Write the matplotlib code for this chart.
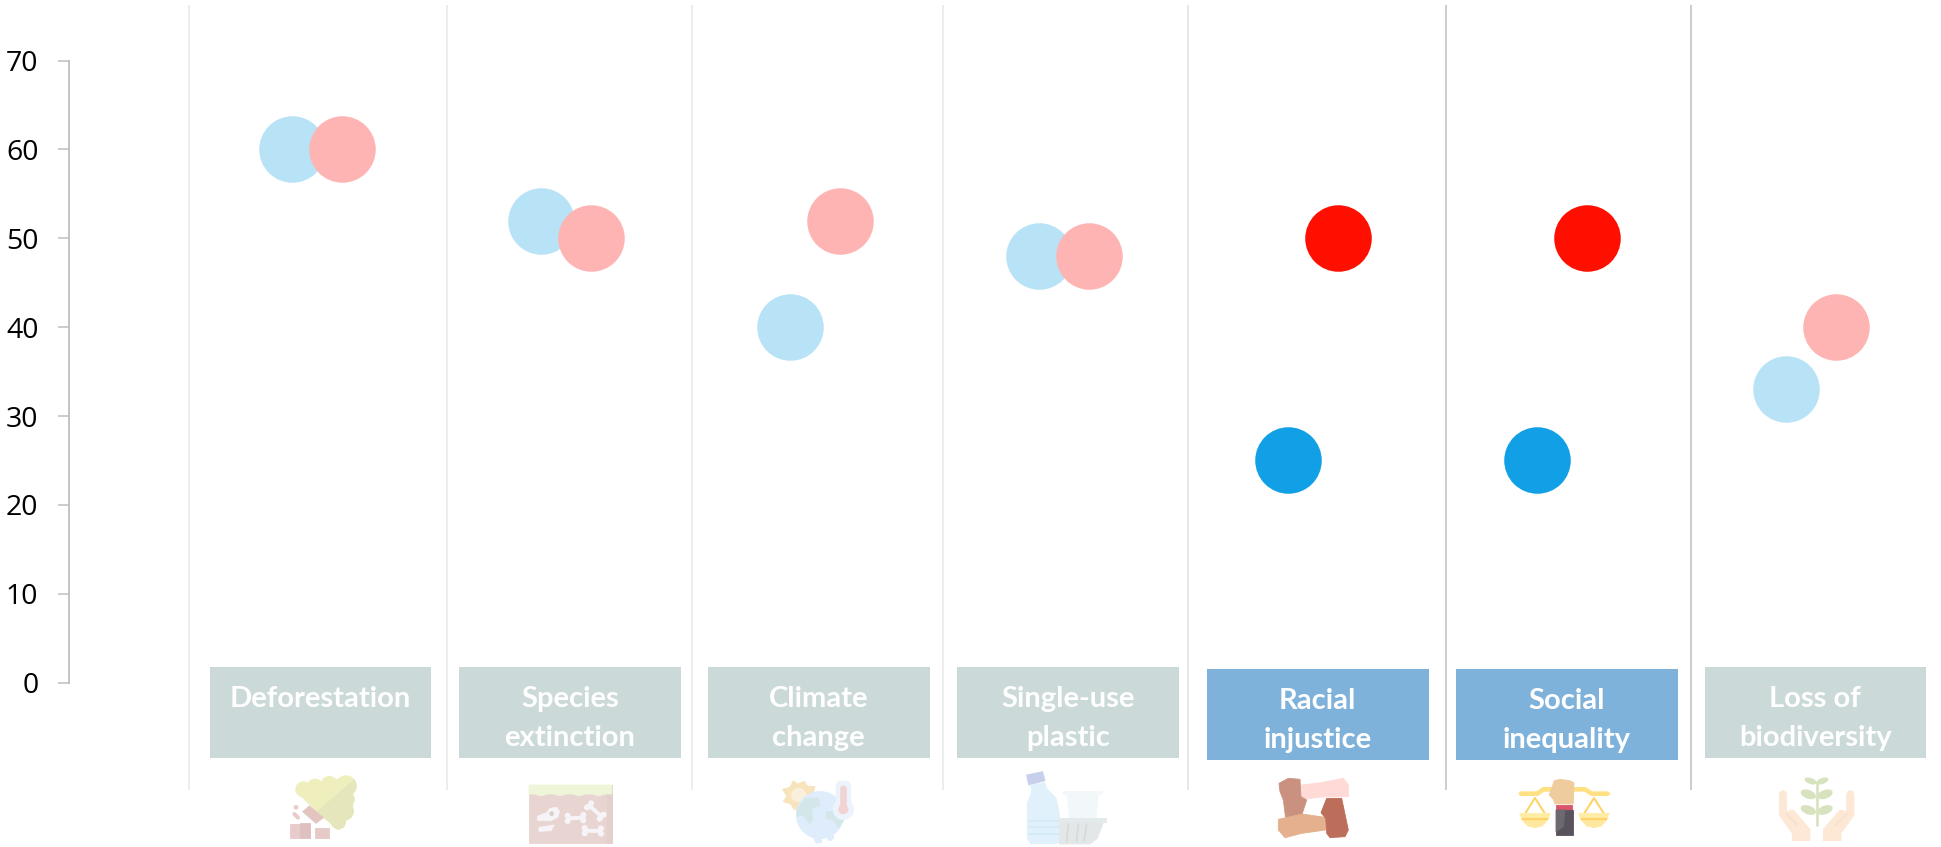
import matplotlib
matplotlib.use("Agg")
import matplotlib.pyplot as plt
from matplotlib.patches import Polygon, Circle, Ellipse, Rectangle
from matplotlib.transforms import Affine2D

WIDTH, HEIGHT = 1941, 847

# ---- data ----
categories = ["Deforestation", "Species\nextinction", "Climate\nchange", "Single-use\nplastic",
              "Racial\ninjustice", "Social\ninequality", "Loss of\nbiodiversity"]
series_blue = [60, 52, 40, 48, 25, 25, 33]
series_red = [60, 50, 52, 48, 50, 50, 40]
highlighted = [False, False, False, False, True, True, False]
y_ticks = [0, 10, 20, 30, 40, 50, 60, 70]

# ---- styles ----
BLUE_MUTED, BLUE_STRONG = "#B8E2F6", "#119FE6"
RED_MUTED, RED_STRONG = "#FFB4B4", "#FF0F00"
BOX_MUTED, BOX_STRONG = "#CCD9D9", "#7FB2DB"
AXIS_GREY = "#BFBFBF"

fig = plt.figure(figsize=(WIDTH / 100, HEIGHT / 100), dpi=100, facecolor="white")
ax = fig.add_axes([0, 0, 1, 1], facecolor="none")

# One category step is 249 px, one value unit is 8.886 px; zero sits at (317, 682.6).
ax.set_xlim(-317 / 249, (WIDTH - 317) / 249)
ax.set_ylim((682.6 - HEIGHT) / 8.886, 682.6 / 8.886)

# Transform that takes top-left based pixel positions.
px = Affine2D().scale(1 / WIDTH, -1 / HEIGHT).translate(0, 1) + fig.transFigure

# ---- axis ----
for side in ("top", "right", "bottom"):
    ax.spines[side].set_visible(False)
ax.spines["left"].set_position(("data", (69 - 317) / 249))
ax.spines["left"].set_bounds(0, 70)
ax.spines["left"].set_color(AXIS_GREY)
ax.spines["left"].set_linewidth(1.3)
ax.set_xticks([])
ax.set_yticks(y_ticks)
ax.tick_params(axis="y", length=8, width=1.1, color=AXIS_GREY, pad=14, labelsize=20.5,
               labelcolor="black")
for label in ax.get_yticklabels():
    label.set_fontfamily("Open Sans")
ax.patch.set_visible(False)

# ---- column separators ----
separators = [(188.7, "#E8E8E8"), (447, "#E8E8E8"), (692, "#E8E8E8"), (943, "#E8E8E8"),
              (1188, "#E0E0E0"), (1446, "#BFBFBF"), (1691, "#BFBFBF")]
for xpos, colour in separators:
    ax.plot([xpos, xpos], [5, 790], color=colour, lw=1.1, transform=px, zorder=1,
            solid_capstyle="butt")

# ---- dots ----
for i in range(len(categories)):
    ax.scatter(i - 0.1, series_blue[i], s=2294, linewidths=0, zorder=3,
               color=BLUE_STRONG if highlighted[i] else BLUE_MUTED)
    ax.scatter(i + 0.1, series_red[i], s=2294, linewidths=0, zorder=4,
               color=RED_STRONG if highlighted[i] else RED_MUTED)

# ---- category boxes ----
box_lefts = [209.7, 459, 708, 957, 1207, 1456, 1704.5]
box_width = 221.5
for left, name, strong in zip(box_lefts, categories, highlighted):
    top = 669 if strong else 667
    ax.add_patch(Rectangle((left, top), box_width, 91, transform=px, linewidth=0, zorder=2,
                           facecolor=BOX_STRONG if strong else BOX_MUTED))
    for n, line in enumerate(name.split("\n")):
        ax.text(left + box_width / 2, top + 40 + 39 * n, line, transform=px, ha="center",
                va="baseline", color="white", fontsize=21, fontweight="bold",
                fontfamily="Lato", zorder=5)


# ---- icons: shapes are given at 3x inside a local box ----
def at(x0, y0, pts):
    return [(x0 + a / 3, y0 + b / 3) for a, b in pts]


def poly(x0, y0, pts, colour):
    patch = Polygon(at(x0, y0, pts), closed=True, transform=px, facecolor=colour, linewidth=0.6,
                    edgecolor=colour, joinstyle="round", zorder=2)
    ax.add_patch(patch)
    return patch


def disc(x0, y0, cx, cy, r, colour):
    patch = Circle((x0 + cx / 3, y0 + cy / 3), r / 3, transform=px, facecolor=colour, linewidth=0,
                   zorder=2)
    ax.add_patch(patch)
    return patch


def oval(x0, y0, cx, cy, w, h, colour, angle=0):
    patch = Ellipse((x0 + cx / 3, y0 + cy / 3), w / 3, h / 3, angle=angle, transform=px,
                    facecolor=colour, linewidth=0, zorder=2)
    ax.add_patch(patch)
    return patch


def stroke(x0, y0, pts, colour, width, cap="round"):
    xs, ys = zip(*at(x0, y0, pts))
    ax.plot(xs, ys, color=colour, lw=width / 3 * 0.72, transform=px, solid_capstyle=cap,
            solid_joinstyle="round", zorder=2)


# Deforestation
X, Y = 270, 770
foliage = [(100, 58, 24), (135, 50, 24), (178, 44, 26), (228, 48, 32), (232, 88, 22),
           (225, 125, 26), (205, 155, 23)]
foliage_poly = [(76, 60), (235, 20), (250, 125), (205, 178), (140, 125)]
for cx, cy, r in foliage:
    disc(X, Y, cx, cy, r, "#EFEFBE")
poly(X, Y, foliage_poly, "#EFEFBE")
shade = Polygon(at(X, Y, [(262, 20), (140, 125), (205, 185), (262, 185)]), closed=True, transform=px)
for cx, cy, r in foliage:
    disc(X, Y, cx, cy, r, "#E6E6BC").set_clip_path(shade)
poly(X, Y, foliage_poly, "#E6E6BC").set_clip_path(shade)
poly(X, Y, [(98, 125), (118, 108), (160, 143), (138, 160)], "#E3C4C0")
disc(X, Y, 78, 112, 7, "#E8CBC8")
stroke(X, Y, [(73, 132), (84, 143)], "#E8CBC8", 12)
poly(X, Y, [(60, 162), (90, 162), (90, 205), (60, 205)], "#E8CCCB")
poly(X, Y, [(90, 160), (120, 160), (120, 205), (90, 205)], "#DFC0C0")
poly(X, Y, [(135, 175), (177, 175), (177, 205), (135, 205)], "#E6CAC8")

# Species extinction
X, Y = 515, 770
poly(X, Y, [(42, 45), (290, 45), (290, 220), (42, 220)], "#E8D5D1")
poly(X, Y, [(275, 70), (290, 70), (290, 220), (275, 220)], "#E3CFCC")
poly(X, Y, [(42, 45), (290, 45), (290, 72), (270, 72), (250, 78), (232, 72), (212, 72), (193, 78),
            (174, 72), (154, 72), (135, 78), (116, 72), (97, 72), (78, 78), (60, 72), (42, 72)],
     "#EEF5D8")
BONE = "#F6F4F6"
bones = [((158, 145), (205, 143), (0, 8)), ((222, 106), (260, 140), (6, -6)),
         ((209, 182), (258, 183), (0, 8))]
for start, end, (dx, dy) in bones:
    stroke(X, Y, [start, end], BONE, 12)
    for (a, b) in (start, end):
        disc(X, Y, a - dx, b - dy, 9, BONE)
        disc(X, Y, a + dx, b + dy, 9, BONE)
poly(X, Y, [(68, 152), (68, 138), (95, 128), (105, 115), (125, 112), (134, 125), (128, 142),
            (108, 152)], BONE)
disc(X, Y, 110, 131, 7, "#D9CFCF")
poly(X, Y, [(72, 172), (118, 165), (108, 182), (72, 184)], BONE)

# Climate change
X, Y = 770, 770
sun_outline = [(70, 32), (82, 42), (103, 34), (112, 48), (135, 50), (130, 68), (145, 82),
               (125, 100), (115, 118), (92, 115), (72, 118), (62, 102), (40, 95), (50, 78),
               (38, 58), (60, 52)]
poly(X, Y, sun_outline, "#F8E4BC")
oval(X, Y, 86, 75, 46, 42, "#FAEEDC")
disc(X, Y, 150, 135, 72, "#DEECFB")
poly(X, Y, [(125, 190), (190, 190), (190, 205), (172, 205), (172, 195), (152, 195), (152, 215),
            (135, 215)], "#DEECFB")
disc(X, Y, 143, 213, 8, "#DEECFB")
disc(X, Y, 180, 205, 8, "#DEECFB")
poly(X, Y, [(80, 120), (105, 85), (145, 85), (150, 105), (125, 115), (128, 150), (118, 160),
            (100, 135), (82, 140)], "#D3E7E8")
poly(X, Y, [(170, 125), (205, 125), (222, 150), (205, 172), (190, 150), (168, 145)], "#D3E7E8")
disc(X, Y, 220, 118, 32, "#EDF3FC")
poly(X, Y, [(198, 45), (206, 34), (234, 34), (242, 45), (242, 125), (198, 125)], "#EDF3FC")
poly(X, Y, [(212, 52), (220, 47), (229, 52), (229, 120), (212, 120)], "#F2D3D3")
disc(X, Y, 220, 118, 15, "#F2D3D3")

# Single-use plastic
X, Y = 1010, 770
poly(X, Y, [(50, 15), (98, 5), (105, 32), (56, 45)], "#C8CFEC")
poly(X, Y, [(62, 45), (104, 38), (110, 56), (138, 85), (148, 130), (148, 215), (138, 221),
            (62, 221), (52, 205), (52, 100), (65, 65)], "#E1F1FB")
for b in (152, 172, 193):
    stroke(X, Y, [(54, b), (146, b)], "#D3E9F7", 5, cap="butt")
poly(X, Y, [(172, 72), (265, 72), (258, 145), (178, 145)], "#F2F7FA")
poly(X, Y, [(160, 62), (275, 62), (275, 72), (160, 72)], "#F5F8FA")
poly(X, Y, [(148, 157), (280, 157), (262, 205), (240, 222), (148, 222)], "#E3E7E8")
for top_x, bottom_x in ((175, 170), (205, 200), (230, 222)):
    stroke(X, Y, [(top_x, 160), (bottom_x, 215)], "#D5DADC", 5, cap="butt")
poly(X, Y, [(145, 145), (288, 145), (288, 157), (145, 157)], "#E3EAEC")

# Racial injustice
X, Y = 1265, 770
poly(X, Y, [(110, 45), (170, 38), (235, 25), (250, 45), (250, 80), (180, 80), (120, 87), (110, 85)],
     "#FFDAD6")
poly(X, Y, [(42, 40), (70, 25), (105, 28), (108, 80), (125, 90), (112, 130), (118, 145), (62, 145),
            (55, 90), (45, 65)], "#CB9180")
poly(X, Y, [(40, 148), (112, 132), (180, 142), (182, 180), (110, 190), (60, 203), (40, 180)],
     "#E4B08E")
poly(X, Y, [(185, 85), (230, 85), (250, 180), (240, 200), (195, 203), (185, 190), (182, 145),
            (168, 128)], "#BC6E5A")

# Social inequality
X, Y = 1510, 770
stroke(X, Y, [(33, 71), (82, 71), (100, 58), (225, 58), (245, 71), (293, 71)], "#FFE082", 14)
for centre in (75, 252):
    stroke(X, Y, [(centre - 28, 128), (centre, 84), (centre + 28, 128)], "#FFD266", 6)
    poly(X, Y, [(centre - 46, 130), (centre + 46, 130), (centre + 40, 145), (centre - 40, 145)],
         "#FFEDA6")
    poly(X, Y, [(centre - 40, 145), (centre + 40, 145), (centre + 36, 152), (centre - 36, 152)],
         "#FFD266")
    poly(X, Y, [(centre - 36, 152), (centre + 36, 152), (centre + 22, 168), (centre, 173),
                (centre - 22, 168)], "#FFE9A0")
poly(X, Y, [(118, 75), (133, 32), (150, 28), (178, 32), (192, 38), (190, 102), (135, 102), (130, 88)],
     "#F0CB9E")
poly(X, Y, [(138, 104), (187, 104), (187, 120), (138, 120)], "#D9566A")
poly(X, Y, [(138, 120), (188, 120), (188, 196), (138, 196)], "#59535E")
poly(X, Y, [(138, 120), (165, 120), (160, 170), (138, 185)], "#6E6870")

# Loss of biodiversity
X, Y = 1760, 770
HAND = "#FDE8D6"
LEAF = "#D7E3BF"
for mirror in (False, True):
    f = (lambda a: 340 - a) if mirror else (lambda a: a)
    poly(X, Y, [(f(a), b) for a, b in [(58, 72), (80, 72), (80, 125), (100, 120), (150, 178),
                                       (150, 212), (97, 212), (97, 190), (58, 135)]], HAND)
    disc(X, Y, f(69), 72, 11, HAND)
    stroke(X, Y, [(f(78), 130), (f(112), 165)], "#F8DFCB", 5)
stroke(X, Y, [(170, 35), (170, 168)], LEAF, 8, cap="butt")
for cx, cy, w, h, tilt in [(152, 33, 38, 18, 20), (187, 33, 38, 18, -20), (145, 73, 48, 26, 20),
                           (195, 73, 48, 26, -20), (145, 120, 48, 26, 20), (195, 120, 48, 26, -20)]:
    oval(X, Y, cx, cy, w, h, LEAF, angle=tilt)

fig.savefig("out.png", dpi=100, facecolor="white")
